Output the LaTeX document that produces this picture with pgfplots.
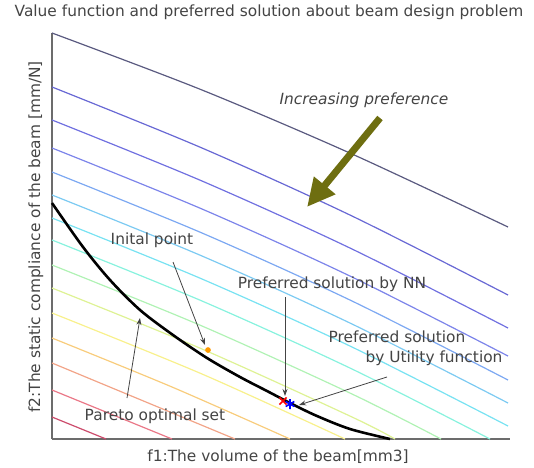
\documentclass[border=0pt]{standalone}
\usepackage{fontspec}
\setmainfont{DejaVu Sans}
\usepackage{pgfplots}
\pgfplotsset{compat=1.18}
\usetikzlibrary{arrows.meta}
\definecolor{c1}{HTML}{5A5A80}
\definecolor{c2}{HTML}{6868D4}
\definecolor{c3}{HTML}{7070E0}
\definecolor{c4}{HTML}{7C84EA}
\definecolor{c5}{HTML}{7CA8F2}
\definecolor{c6}{HTML}{7CCAF2}
\definecolor{c7}{HTML}{78E2F2}
\definecolor{c8}{HTML}{88F2DE}
\definecolor{c9}{HTML}{B0F2B4}
\definecolor{c10}{HTML}{DEF294}
\definecolor{c11}{HTML}{F8F08C}
\definecolor{c12}{HTML}{F8CC7C}
\definecolor{c13}{HTML}{F2A488}
\definecolor{c14}{HTML}{EA7888}
\definecolor{c15}{HTML}{CC4C6C}
\definecolor{olivearrow}{HTML}{6E6E10}
\definecolor{txt}{HTML}{444444}
\begin{document}
\fontsize{15.4}{18}\selectfont
\begin{tikzpicture}
\path[use as bounding box] (-52pt,-28pt) rectangle (482pt,439pt);
\begin{axis}[
  at={(0,0)}, anchor=south west,
  scale only axis, width=458pt, height=406pt,
  xmin=0, xmax=458, ymin=0, ymax=406,
  axis x line=bottom, axis y line=left,
  axis line style={-, draw=gray!85!black, line width=1.4pt},
  xtick=\empty, ytick=\empty,
  clip=false,
  every axis plot/.append style={line width=1.2pt},
]
\addplot[c1, smooth] coordinates {(0,406) (150,349) (300,285) (456,212)};
\addplot[c2, smooth] coordinates {(0,352) (150,291) (300,223) (456,144)};
\addplot[c3, smooth] coordinates {(0,319) (150,258) (300,190) (456,111)};
\addplot[c4, smooth] coordinates {(0,291) (150,230) (300,162) (456,83)};
\addplot[c5, smooth] coordinates {(0,267) (150,206) (300,138) (456,59)};
\addplot[c6, smooth] coordinates {(0,244) (150,183) (300,115) (456,36)};
\addplot[c7, smooth] coordinates {(0,221) (150,160) (300,92) (456,13)};
\addplot[c8, smooth] coordinates {(0,199) (150,138) (300,70) (438,0)};
\addplot[c9, smooth] coordinates {(0,174) (150,113) (300,45) (389,0)};
\addplot[c10, smooth] coordinates {(0,151) (150,90) (300,22) (343,0)};
\addplot[c11, smooth] coordinates {(0,126) (150,65) (293,0)};
\addplot[c12, smooth] coordinates {(0,101) (120,52) (238,0)};
\addplot[c13] coordinates {(0,76) (183,0)};
\addplot[c14] coordinates {(0,49) (120,0)};
\addplot[c15] coordinates {(0,22) (54,0)};
% Pareto optimal set
\addplot[black, line width=2.6pt, smooth] coordinates {
(0,236) (31,192) (58,159) (88,129) (121,104) (155,81) (188,62) (215,48) (240,35) (265,23) (298,10) (338,0)};
% points
\addplot[only marks, mark=*, mark size=2.2pt, color=orange!80!yellow] coordinates {(156,89)};
\addplot[only marks, mark=x, mark size=5pt, red, line width=1.6pt] coordinates {(231,38)};
\addplot[only marks, mark=asterisk, mark size=5pt, blue, line width=1.6pt] coordinates {(238,35)};
% annotations
\draw[olivearrow, line width=7pt, -{Triangle[length=28pt,width=26pt]}] (axis cs:328,321) -- (axis cs:255,232);
\draw[txt, line width=0.8pt, -{Stealth[length=7pt,width=5pt]}] (axis cs:121,177) -- (axis cs:153,94);
\draw[txt, line width=0.8pt, -{Stealth[length=7pt,width=5pt]}] (axis cs:75,41) -- (axis cs:88,121);
\draw[txt, line width=0.8pt, -{Stealth[length=7pt,width=5pt]}] (axis cs:233,142) -- (axis cs:233,43);
\draw[txt, line width=0.8pt, -{Stealth[length=7pt,width=5pt]}] (axis cs:335,62) -- (axis cs:247,34);
\node[txt] at (axis cs:217,427) {Value function and preferred solution about beam design problem};
\node[txt, font=\itshape] at (axis cs:312,339) {Increasing preference};
\node[txt] at (axis cs:100,199) {Inital point};
\node[txt] at (axis cs:103,23) {Pareto optimal set};
\node[txt] at (axis cs:280,155) {Preferred solution by NN};
\node[txt] at (axis cs:345,102) {Preferred solution};
\node[txt] at (axis cs:382,81) {by Utility function};
\node[txt] at (axis cs:226,-18) {f1:The volume of the beam[mm3]};
\node[txt, rotate=90] at (axis cs:-16,202) {f2:The static compliance of the beam [mm/N]};
\end{axis}
\end{tikzpicture}
\end{document}
